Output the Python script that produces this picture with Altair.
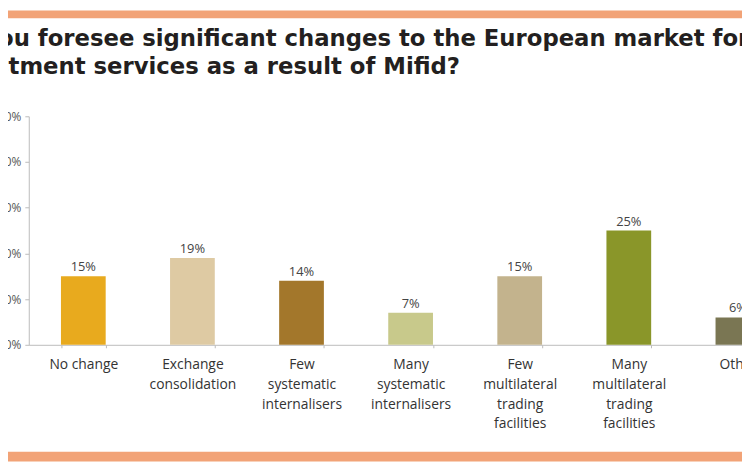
import altair as alt
import pandas as pd

categories = [
    "No change",
    "Exchange consolidation",
    "Few systematic internalisers",
    "Many systematic internalisers",
    "Few multilateral trading facilities",
    "Many multilateral trading facilities",
    "Other",
]
label_lines = [
    "No change",
    "Exchange|consolidation",
    "Few|systematic|internalisers",
    "Many|systematic|internalisers",
    "Few|multilateral|trading|facilities",
    "Many|multilateral|trading|facilities",
    "Other",
]
values = [15, 19, 14, 7, 15, 25, 6]
colors = ["#E8AA1E", "#DECAA3", "#A3772B", "#C8C98B", "#C3B38D", "#8A9629", "#7A7653"]
y_ticks = [0, 10, 20, 30, 40, 50]
title_lines = [
    "Do you foresee significant changes to the European market for",
    "investment services as a result of Mifid?",
]

df = pd.DataFrame({"category": categories, "value": values})

label_map = "{" + ",".join(f"'{c}': '{l}'" for c, l in zip(categories, label_lines)) + "}"

x_enc = alt.X(
    "category:N",
    sort=categories,
    scale=alt.Scale(paddingInner=0.59, paddingOuter=0.295),
    axis=alt.Axis(
        title=None,
        labelAngle=0,
        labelExpr=f"isValid({label_map}[datum.label]) ? split({label_map}[datum.label], '|') : ''",
        labelFont="Open Sans",
        labelFontSize=14,
        labelColor="#333333",
        labelLineHeight=20,
        labelPadding=10,
        labelBaseline="top",
        domainColor="#bbbbbb",
        tickColor="#bbbbbb",
        tickSize=3,
        tickBand="extent",
        labelLimit=200,
    ),
)
y_enc = alt.Y(
    "value:Q",
    scale=alt.Scale(domain=[0, 50]),
    axis=alt.Axis(
        title=None,
        values=y_ticks,
        labelExpr="datum.value + '%'",
        labelFont="Open Sans",
        labelFontSize=12,
        labelColor="#555555",
        labelPadding=4,
        domainColor="#bbbbbb",
        tickColor="#bbbbbb",
        tickSize=4,
        grid=False,
    ),
)

bars = alt.Chart(df).mark_bar().encode(
    x=x_enc,
    y=y_enc,
    color=alt.Color("category:N", scale=alt.Scale(domain=categories, range=colors), legend=None),
)
texts = alt.Chart(df).mark_text(dy=-9, font="Open Sans", fontSize=13, color="#444444").encode(
    x=alt.X("category:N", sort=categories),
    y="value:Q",
    text=alt.Text("label:N"),
).transform_calculate(label="datum.value + '%'")

one = pd.DataFrame({"k": [0]})
title = alt.Chart(one).mark_text(
    align="left", baseline="alphabetic", font="DejaVu Sans", fontSize=23,
    fontWeight="bold", color="#231f20", lineHeight=28,
).encode(x=alt.value(-89), y=alt.value(-71), text=alt.value(title_lines))

top_band = alt.Chart(one).mark_rule(color="#F2A377", strokeWidth=8).encode(
    x=alt.value(-30), x2=alt.value(780), y=alt.value(-103)
)
bottom_band = alt.Chart(one).mark_rule(color="#F2A377", strokeWidth=10).encode(
    x=alt.value(-30), x2=alt.value(780), y=alt.value(344)
)

chart = alt.layer(bars, texts, title, top_band, bottom_band).properties(
    width=772,
    height=231,
    autosize=alt.AutoSizeParams(type="none"),
    padding={"left": 21, "top": 107, "right": -51, "bottom": 116},
).configure_view(stroke=None)

chart.save("out.html", embed_options={"renderer": "svg", "actions": False})
